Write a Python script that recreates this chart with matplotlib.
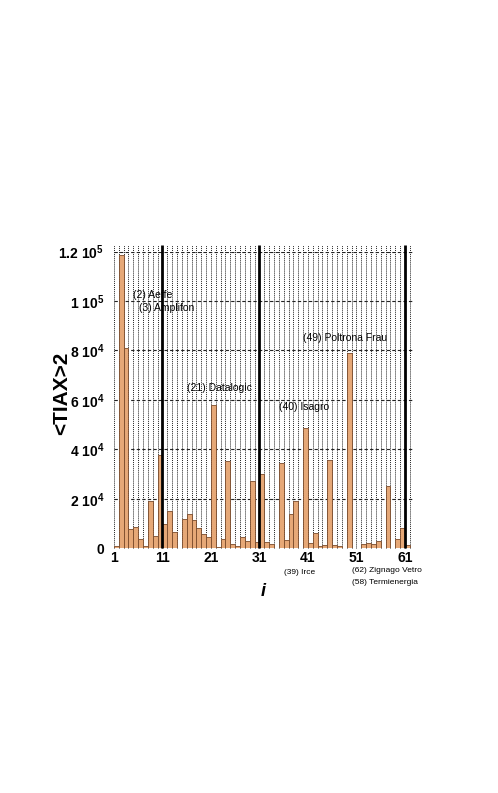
import matplotlib
matplotlib.use("Agg")
import matplotlib.pyplot as plt
import numpy as np

# ---- data ----
index = list(range(1, 63))
values = [800, 118500, 81000, 7900, 8600, 3700, 1100, 19200, 4900, 37800,
          9700, 15100, 6400, 200, 11700, 13700, 11400, 8300, 5700, 4600,
          58000, 400, 3900, 35200, 1800, 1100, 4400, 2900, 27300, 2400,
          30000, 2400, 1600, 200, 34500, 3300, 13900, 19200, 100, 48800,
          2200, 6000, 800, 1200, 35600, 1200, 800, 300, 78900, 100,
          300, 1600, 2300, 1900, 2900, 300, 25000, 100, 3700, 8300,
          1400, 100]
x_ticks = [1, 11, 21, 31, 41, 51, 61]
y_ticks = [0, 20000, 40000, 60000, 80000, 100000, 120000]
y_ticklabels = ["0", "2 $10^{4}$", "4 $10^{4}$", "6 $10^{4}$", "8 $10^{4}$",
                "1 $10^{5}$", "1.2 $10^{5}$"]
separators = [11, 31, 61]
annot_in = [("(2) Aeffe", 4.94, 102400), ("(3) Amplifon", 6.18, 97100),
            ("(21) Datalogic", 16.07, 64650), ("(49) Poltrona Frau", 39.99, 84900),
            ("(40) Isagro", 35.04, 56940)]
annot_below = [("(39) Irce", 284, 573), ("(62) Zignago Vetro", 352, 571),
               ("(58) Termienergia", 352, 583)]

plt.rcParams['font.family'] = ['Liberation Sans', 'DejaVu Sans']
plt.rcParams['mathtext.fontset'] = 'custom'
plt.rcParams['mathtext.rm'] = 'Liberation Sans:bold'
plt.rcParams['mathtext.it'] = 'Liberation Sans:bold:italic'
plt.rcParams['mathtext.bf'] = 'Liberation Sans:bold'

W, H = 498, 793
fig = plt.figure(figsize=(W / 100, H / 100), dpi=100)
ax = fig.add_axes([113.9 / W, 1 - 548.3 / H, (413 - 113.9) / W, (548.3 - 251.5) / H])

ax.set_xlim(1, 62.67)
ax.set_ylim(0, 120000)

# grid
for xi in range(1, 63):
    ax.vlines(xi, 0, 122500, colors='#222222', linestyles=(0, (1, 1)), lw=0.7,
              zorder=1, clip_on=False)
for yv in y_ticks[1:]:
    ax.axhline(yv, color='#222222', ls=(0, (3, 2)), lw=0.8, zorder=1)

ax.bar(index, values, width=1, align='edge', color='#E6A877', edgecolor='#7a4a2a',
       lw=0.6, zorder=2)

for s in separators:
    ax.vlines(s, 0, 122500, colors='black', lw=2.0, zorder=3, clip_on=False)

for sp in ax.spines.values():
    sp.set_visible(False)

ax.set_xticks(x_ticks)
ax.set_xticklabels([str(t) for t in x_ticks], fontsize=10, fontweight='bold')
ax.set_yticks(y_ticks)
ax.set_yticklabels(y_ticklabels, fontsize=10, fontweight='bold')
ax.tick_params(axis='both', length=0)
ax.tick_params(axis='x', pad=2)
ax.tick_params(axis='y', pad=7)

for t, xx, yy in annot_in:
    ax.text(xx, yy, t, fontsize=7.5, ha='left', va='center', zorder=4)
for t, px, py in annot_below:
    fig.text(px / W, 1 - py / H, t, fontsize=6, ha='left', va='center')

fig.text(263 / W, 1 - 591 / H, "i", fontsize=13, fontweight='bold', style='italic',
         ha='center', va='center')
fig.text(62 / W, 1 - 393 / H, "<TIAX>2", fontsize=15, fontweight='bold',
         rotation=90, ha='center', va='center')

fig.savefig("out.png", dpi=100)
